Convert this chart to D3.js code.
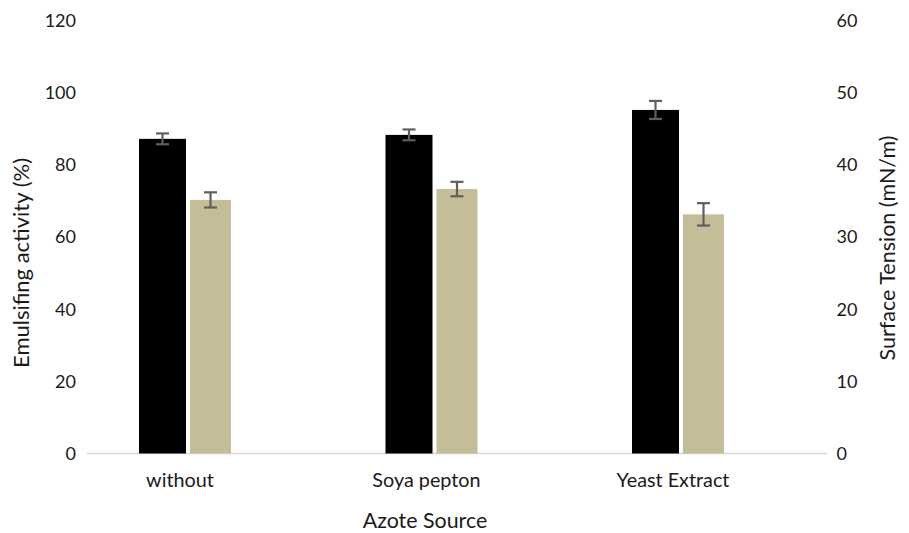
<!DOCTYPE html>
<html>
<head>
<meta charset="utf-8">
<script src="https://cdn.jsdelivr.net/npm/d3@7"></script>
<style>
  html, body { margin: 0; padding: 0; background: #fff; }
  svg { display: block; font-family: Lato, "Open Sans", sans-serif; }
</style>
</head>
<body>
<svg id="chart" width="909" height="533"></svg>
<script>
// Nitrogen source categories
const categories = ["without", "Soya pepton", "Yeast Extract"];

// Emulsifying activity (%) – left axis
const emulsifying = [87.1, 88.2, 95.1];
const emulsifyingErr = [1.5, 1.5, 2.5];

// Surface tension (mN/m) – right axis
const tension = [35.1, 36.6, 33.1];
const tensionErr = [1.05, 1.0, 1.55];

const leftTicks = [0, 20, 40, 60, 80, 100, 120];
const rightTicks = [0, 10, 20, 30, 40, 50, 60];

const plot = { left: 87, right: 827, top: 20, bottom: 453.5 };

const svg = d3.select("#chart");

const yL = d3.scaleLinear().domain([0, 120]).range([plot.bottom, plot.top]);
const yR = d3.scaleLinear().domain([0, 60]).range([plot.bottom, plot.top]);

const x0 = d3.scaleBand().domain(categories).range([61.75, 801.25]).padding(0);
const series = ["emulsifying", "tension"];
const x1 = d3.scaleBand().domain(series).range([-46, 46]).padding(0);

const textColor = "#1a1a1a";

// category axis baseline
svg.append("line")
  .attr("x1", plot.left).attr("x2", plot.right)
  .attr("y1", yL(0)).attr("y2", yL(0))
  .attr("stroke", "#d9d9d9").attr("stroke-width", 1.6);

// left tick labels
svg.append("g").selectAll("text").data(leftTicks).join("text")
  .attr("x", 76).attr("y", d => yL(d) + 6.5)
  .attr("text-anchor", "end")
  .attr("font-size", 18).attr("fill", textColor)
  .text(d => d);

// right tick labels
svg.append("g").selectAll("text").data(rightTicks).join("text")
  .attr("x", 836.5).attr("y", d => yR(d) + 6.5)
  .attr("text-anchor", "start")
  .attr("font-size", 18).attr("fill", textColor)
  .text(d => d);

const rows = categories.map((c, i) => ({
  c,
  e: emulsifying[i], ee: emulsifyingErr[i],
  t: tension[i], te: tensionErr[i]
}));

const groups = svg.append("g").selectAll("g").data(rows).join("g")
  .attr("transform", d => `translate(${x0(d.c) + x0.bandwidth() / 2},0)`);

// emulsifying activity bars (black)
groups.append("rect")
  .attr("x", x1("emulsifying"))
  .attr("width", x1.bandwidth() + 1)
  .attr("y", d => yL(d.e))
  .attr("height", d => yL(0) - yL(d.e))
  .attr("fill", "#000");

// surface tension bars (tan)
groups.append("rect")
  .attr("x", x1("tension") + 5)
  .attr("width", x1.bandwidth() - 5)
  .attr("y", d => yR(d.t))
  .attr("height", d => yR(0) - yR(d.t))
  .attr("fill", "#c4bd97");

// error bars
function errorBar(sel, cx, yTop, yBot) {
  const g = sel.append("g").attr("stroke", "#5f5f5f").attr("stroke-width", 2.2).attr("fill", "none");
  g.append("line").attr("x1", cx).attr("x2", cx).attr("y1", yTop).attr("y2", yBot);
  g.append("line").attr("x1", d => cx(d) - 6.5).attr("x2", d => cx(d) + 6.5).attr("y1", yTop).attr("y2", yTop);
  g.append("line").attr("x1", d => cx(d) - 6.5).attr("x2", d => cx(d) + 6.5).attr("y1", yBot).attr("y2", yBot);
}
errorBar(groups,
  () => x1("emulsifying") + (x1.bandwidth() + 1) / 2,
  d => yL(d.e + d.ee), d => yL(d.e - d.ee));
errorBar(groups,
  () => x1("tension") + 5 + (x1.bandwidth() - 5) / 2,
  d => yR(d.t + d.te), d => yR(d.t - d.te));

// category labels
svg.append("g").selectAll("text").data(categories).join("text")
  .attr("x", d => x0(d) + x0.bandwidth() / 2 - 5)
  .attr("y", 486.5)
  .attr("text-anchor", "middle")
  .attr("font-size", 19.8).attr("fill", textColor)
  .text(d => d);

// axis titles
svg.append("text")
  .attr("x", 425).attr("y", 528)
  .attr("text-anchor", "middle")
  .attr("font-size", 21.4).attr("fill", textColor)
  .text("Azote Source");

svg.append("text")
  .attr("transform", "translate(29,263) rotate(-90)")
  .attr("text-anchor", "middle")
  .attr("font-size", 22).attr("fill", textColor)
  .text("Emulsifing activity (%)");

svg.append("text")
  .attr("transform", "translate(895,248) rotate(-90)")
  .attr("text-anchor", "middle")
  .attr("font-size", 21.5).attr("fill", textColor)
  .text("Surface Tension (mN/m)");
</script>
</body>
</html>
